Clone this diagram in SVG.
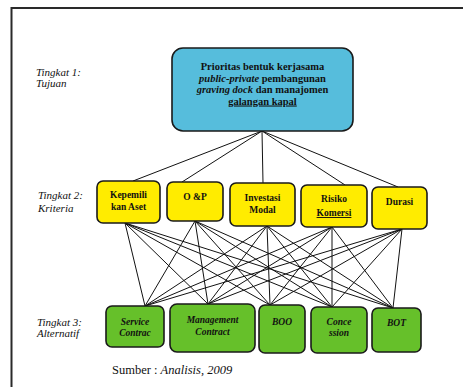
<svg xmlns="http://www.w3.org/2000/svg" width="463" height="387" viewBox="0 0 463 387">
<style>
.frame{fill:none;stroke:#2a2a2a;stroke-width:2}
.box{stroke:#1a1a1a;stroke-width:1.6}
.goal{fill:#56bddc}
.crit{fill:#ffec00}
.alt{fill:#66c02a}
.con line{stroke:#111;stroke-width:1}
.t{font-family:"Liberation Serif",serif;fill:#111}
.lbl{font-size:11px;font-style:italic}
.bt{font-size:10.5px;font-weight:bold;text-anchor:middle}
.ct{font-size:9.5px;font-weight:bold;text-anchor:middle}
.at{font-size:9.5px;font-style:italic;font-weight:bold;text-anchor:middle}
</style>
<rect width="463" height="387" fill="#fff"/>
<path class="frame" d="M11.5,390 V8 H470"/>
<g id="labels">
<text class="t lbl" x="36" y="76">Tingkat 1:</text>
<text class="t lbl" x="36" y="87">Tujuan</text>
<text class="t lbl" x="38" y="199">Tingkat 2:</text>
<text class="t lbl" x="38" y="212">Kriteria</text>
<text class="t lbl" x="37" y="326">Tingkat 3:</text>
<text class="t lbl" x="37" y="337">Alternatif</text>
</g>
<g class="con" id="connectors">
<line x1="262" y1="131" x2="133" y2="181"/>
<line x1="262" y1="131" x2="182" y2="182"/>
<line x1="262" y1="131" x2="263" y2="183"/>
<line x1="262" y1="131" x2="345" y2="185"/>
<line x1="262" y1="131" x2="398" y2="187"/>
<line x1="125" y1="223" x2="145" y2="306"/>
<line x1="125" y1="223" x2="208" y2="304"/>
<line x1="125" y1="223" x2="270" y2="305"/>
<line x1="125" y1="223" x2="332" y2="307"/>
<line x1="125" y1="223" x2="393" y2="308"/>
<line x1="195" y1="221" x2="145" y2="306"/>
<line x1="195" y1="221" x2="208" y2="304"/>
<line x1="195" y1="221" x2="270" y2="305"/>
<line x1="195" y1="221" x2="332" y2="307"/>
<line x1="195" y1="221" x2="393" y2="308"/>
<line x1="267" y1="226" x2="145" y2="306"/>
<line x1="267" y1="226" x2="208" y2="304"/>
<line x1="267" y1="226" x2="270" y2="305"/>
<line x1="267" y1="226" x2="332" y2="307"/>
<line x1="267" y1="226" x2="393" y2="308"/>
<line x1="332" y1="227" x2="145" y2="306"/>
<line x1="332" y1="227" x2="208" y2="304"/>
<line x1="332" y1="227" x2="270" y2="305"/>
<line x1="332" y1="227" x2="332" y2="307"/>
<line x1="332" y1="227" x2="393" y2="308"/>
<line x1="402" y1="229" x2="145" y2="306"/>
<line x1="402" y1="229" x2="208" y2="304"/>
<line x1="402" y1="229" x2="270" y2="305"/>
<line x1="402" y1="229" x2="332" y2="307"/>
<line x1="402" y1="229" x2="393" y2="308"/>
</g>
<g id="goal">
<rect class="box goal" x="172" y="48" width="181" height="83" rx="11"/>
<text class="t bt" x="262.5" y="70">Prioritas bentuk kerjasama</text>
<text class="t bt" x="262.5" y="81.5"><tspan font-style="italic">public-private</tspan> pembangunan</text>
<text class="t bt" x="262.5" y="93"><tspan font-style="italic">graving dock</tspan> dan manajomen</text>
<text class="t bt" x="262.5" y="104.5" text-decoration="underline">galangan kapal</text>
</g>
<g id="k1"><rect class="box crit" x="97" y="181" width="63" height="42" rx="6"/>
<text class="t ct" x="128.5" y="198">Kepemili</text><text class="t ct" x="128.5" y="210">kan Aset</text></g>
<g id="k2"><rect class="box crit" x="167" y="182" width="56" height="39" rx="6"/>
<text class="t ct" x="195" y="200">O &amp;P</text></g>
<g id="k3"><rect class="box crit" x="230" y="183" width="65" height="43" rx="6"/>
<text class="t ct" x="262.5" y="201">Investasi</text><text class="t ct" x="262.5" y="213">Modal</text></g>
<g id="k4"><rect class="box crit" x="301" y="185" width="66" height="42" rx="6"/>
<text class="t ct" x="334" y="202">Risiko</text><text class="t ct" x="334" y="216" text-decoration="underline">Komersi</text></g>
<g id="k5"><rect class="box crit" x="372" y="187" width="55" height="42" rx="6"/>
<text class="t ct" x="399.5" y="205">Durasi</text></g>
<g id="a1"><rect class="box alt" x="106" y="306" width="58" height="41" rx="6"/>
<text class="t at" x="135" y="325">Service</text><text class="t at" x="135" y="336">Contrac</text></g>
<g id="a2"><rect class="box alt" x="170" y="304" width="85" height="48" rx="7"/>
<text class="t at" x="212.5" y="323">Management</text><text class="t at" x="212.5" y="335">Contract</text></g>
<g id="a3"><rect class="box alt" x="259" y="305" width="46" height="48" rx="6"/>
<text class="t at" x="282" y="325">BOO</text></g>
<g id="a4"><rect class="box alt" x="311" y="307" width="56" height="46" rx="6"/>
<text class="t at" x="339" y="325">Conce</text><text class="t at" x="339" y="336">ssion</text></g>
<g id="a5"><rect class="box alt" x="372" y="308" width="49" height="44" rx="6"/>
<text class="t at" x="396.5" y="326">BOT</text></g>
<text class="t" x="112" y="374" font-size="12.5px">Sumber : <tspan font-style="italic">Analisis, 2009</tspan></text>
</svg>
